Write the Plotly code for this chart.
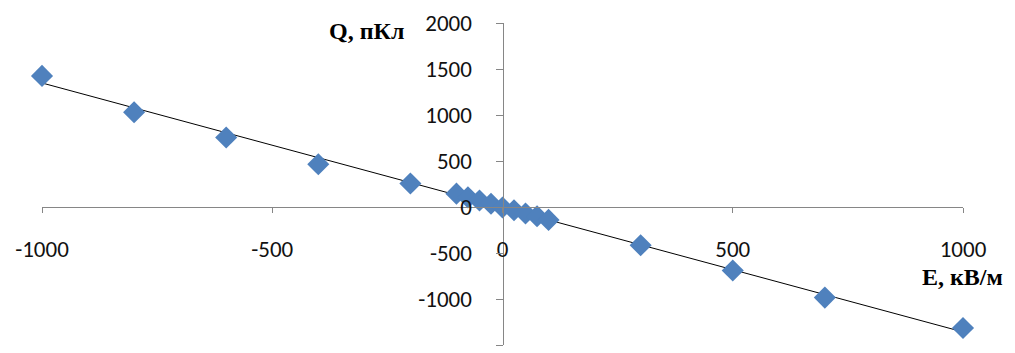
import plotly.graph_objects as go

# Data
E_kVm = [-1000, -800, -600, -400, -200, -100, -75, -50, -25, 0, 25, 50, 75, 100, 300, 500, 700, 1000]
Q_pC = [1425, 1030, 755, 465, 255, 145, 105, 70, 35, -5, -35, -70, -100, -140, -415, -690, -985, -1315]
fit_x = [-1000, 1000]
fit_y = [1348, -1358]

x_ticks = [-1000, -500, 0, 500, 1000]
y_ticks = [-1500, -1000, -500, 0, 500, 1000, 1500, 2000]

W, H = 1015, 353
ml, mr, mt, mb = 42, 52, 23, 8

fig = go.Figure()
fig.add_trace(go.Scatter(x=fit_x, y=fit_y, mode="lines", cliponaxis=False,
                         line=dict(color="black", width=1), hoverinfo="skip", showlegend=False))
fig.add_trace(go.Scatter(x=E_kVm, y=Q_pC, mode="markers", cliponaxis=False,
                         marker=dict(symbol="diamond", size=17, color="#4F81BD", line=dict(width=0)),
                         showlegend=False))

tickfont = dict(family="Carlito, Lato, Liberation Sans, sans-serif", size=23, color="#111111")

fig.update_layout(
    width=W, height=H,
    margin=dict(l=ml, r=mr, t=mt, b=mb),
    paper_bgcolor="white", plot_bgcolor="white",
    xaxis=dict(range=[-1000, 1000], tickvals=x_ticks, ticktext=[str(v) for v in x_ticks],
               showgrid=False, zeroline=False, showline=True, linecolor="#868686", linewidth=1,
               ticks="outside", ticklen=5, tickcolor="#868686", tickfont=tickfont,
               anchor="free", position=1500 / 3500, ticklabelstandoff=16),
    yaxis=dict(range=[-1500, 2000], tickvals=y_ticks, ticktext=[str(v) for v in y_ticks],
               showgrid=False, zeroline=False, showline=True, linecolor="#868686", linewidth=1,
               ticks="outside", ticklen=7, tickcolor="#868686", tickfont=tickfont,
               anchor="free", position=0.5, ticklabelstandoff=19),
    annotations=[
        dict(text="<b>Q, пКл</b>", xref="paper", yref="paper",
             x=(366 - ml) / (W - ml - mr), y=(H - mb - 31) / (H - mt - mb),
             xanchor="center", yanchor="middle", showarrow=False,
             font=dict(family="Liberation Serif, Times New Roman, serif", size=24, color="black")),
        dict(text="<b>E, кВ/м</b>", xref="paper", yref="paper",
             x=(962 - ml) / (W - ml - mr), y=(H - mb - 277) / (H - mt - mb),
             xanchor="center", yanchor="middle", showarrow=False,
             font=dict(family="Liberation Serif, Times New Roman, serif", size=24, color="black")),
    ],
)

fig.write_html("out.html")
